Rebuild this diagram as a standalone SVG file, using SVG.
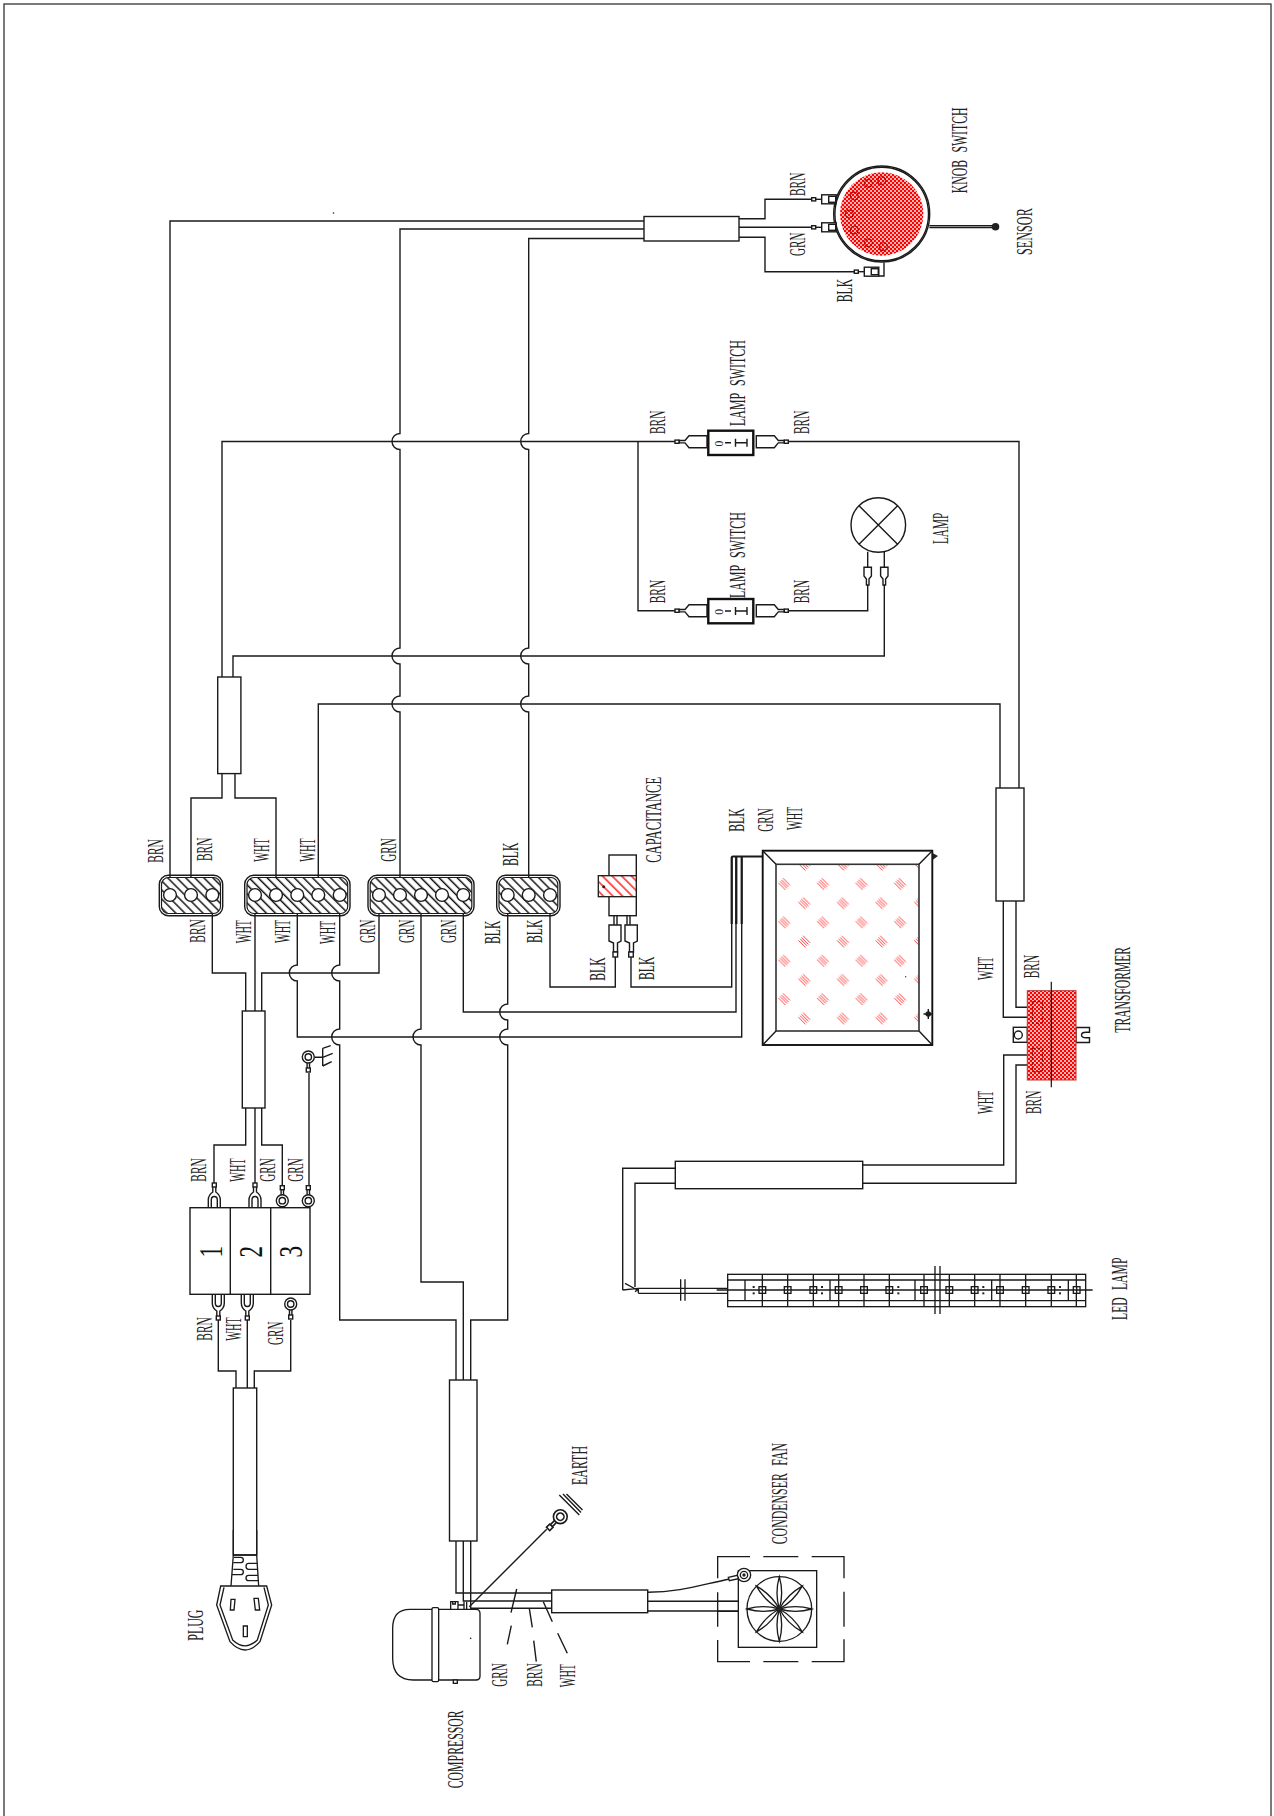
<svg xmlns="http://www.w3.org/2000/svg" xmlns:xlink="http://www.w3.org/1999/xlink" width="1274" height="1816" viewBox="0 0 1274 1816">
<style>
.l{fill:none;stroke:#1a1a1a;stroke-width:1.4}
.f{fill:#fff;stroke:#1a1a1a;stroke-width:1.4}
.th{fill:#fff;stroke:#111;stroke-width:2.4}
.t{font-family:"Liberation Serif",serif;font-size:24px;fill:#222;word-spacing:9px}
.n{font-family:"Liberation Serif",serif;font-size:33px;fill:#111;text-anchor:middle}
.zw{fill:#fff;stroke:#1a1a1a;stroke-width:4}
.zl{fill:none;stroke:#1a1a1a;stroke-width:4}
</style>
<defs>
<pattern id="hatch" width="6.4" height="6.4" patternUnits="userSpaceOnUse" patternTransform="rotate(45)"><rect width="6.4" height="6.4" fill="#fff"/><line x1="0" y1="3" x2="6.4" y2="3" stroke="#111" stroke-width="1.5"/></pattern>
<pattern id="rhatch" width="6.8" height="6.8" patternUnits="userSpaceOnUse" patternTransform="rotate(45)"><rect width="6.8" height="6.8" fill="#fff"/><line x1="0" y1="3" x2="6.8" y2="3" stroke="#f00" stroke-width="1.3"/></pattern>
<pattern id="rdot" width="4" height="4" patternUnits="userSpaceOnUse"><rect width="4" height="4" fill="#f00"/><circle cx="1" cy="1" r=".95" fill="#fff"/><circle cx="3" cy="3" r=".95" fill="#fff"/></pattern>
<pattern id="panel" x="777.3" y="877" width="38.6" height="38.4" patternUnits="userSpaceOnUse"><rect width="38.6" height="38.4" fill="#fff"/><path d="M1.2 5.8L8.2 12.8M2.8 4.2L9.8 11.2M4.2 2.8L11.2 9.8M5.8 1.2L12.8 8.2M21.2 25L28.2 32M22.8 23.4L29.8 30.4M24.2 22L31.2 29M25.8 20.4L32.8 27.4" stroke="#f00" stroke-width=".75" fill="none"/></pattern>
<g id="plugc"><path class="f" d="M4 -1.2H10L14 -6H32V6H14L10 1.2H4Z"/><rect class="f" x="0" y="-1.6" width="4" height="3.2"/></g>
<g id="kconn"><path class="l" d="M4 0H10"/><rect class="f" x="0" y="-1.6" width="4" height="3.2"/><rect class="f" x="10" y="-4.5" width="14.5" height="9"/><rect class="l" x="17" y="-3" width="7" height="6"/></g>
<g id="fork"><rect class="f" x="-2" y="0" width="4" height="4"/><path class="l" d="M-1.5 4V9Q-6 12-6 17V25M1.5 4V9Q6 12 6 17V25M-3 25V17Q-3 13.5 0 13.5Q3 13.5 3 17V25"/></g>
<g id="ring"><circle class="f" r="6"/><circle class="l" r="3.2"/><path class="l" d="M-1.2 -6V-11M1.2 -6V-11"/><rect class="f" x="-2" y="-15" width="4" height="4"/></g>
</defs>
<rect id="frame" x="4" y="4" width="1267" height="1840" fill="#fff" stroke="#222" stroke-width="1.2"/>
<circle cx="333.5" cy="213" r=".8" fill="#222"/>

<g id="connectors" class="l">
<path d="M170 895V221H644"/>
<path d="M644 229H400V433.5a8 8 0 0 0 0 16V648a8 8 0 0 0 0 16V696a8 8 0 0 0 0 16V895"/>
<path d="M644 238.5H528.7V433.5a8 8 0 0 0 0 16V648a8 8 0 0 0 0 16V696a8 8 0 0 0 0 16V895"/>
<path d="M222 773.6V441.5H675"/>
<path d="M638 441.5V610.7H675"/>
<path d="M788 441.5H1019V788"/>
<path d="M788 610.7H867.7V590"/>
<path d="M884.3 590V656H233V677"/>
<path d="M318.3 895V704H1000V788"/>
<path d="M191 895V798H222V773.6"/>
<path d="M276 895V798H235V773.6"/>
<path d="M212.3 895V973H245.7V1011"/>
<path d="M255 895V1011"/>
<path d="M379 895V973H261.7V1011"/>
<path d="M297.3 895V965a8 8 0 0 0 0 16V1037H741.7V857"/>
<path d="M339.7 895V965a8 8 0 0 0 0 16V1029a8 8 0 0 0 0 16V1320H456V1380"/>
<path d="M421 895V1029a8 8 0 0 0 0 16V1282H463.3V1380"/>
<path d="M507.7 895V1004a8 8 0 0 0 0 16V1029a8 8 0 0 0 0 16V1320H470.7V1380"/>
<path d="M463.3 895V1012H736V857"/>
<path d="M550 895V987H615.3V957"/>
<path d="M631 957V987H731.7V857"/>
<path d="M731.7 924V858Q731.7 856.5 733 856.5H763M736.3 924V857M741.7 924V857M755 856.5H763" stroke-width="2.2"/>
<path d="M245.7 1108V1145H214V1183M255 1108V1183M261.7 1108V1145H282.3V1186"/>
<path d="M309 1073V1186"/>
<path d="M218.3 1320V1371H236V1388M247.3 1320V1388M254.3 1388V1371H290.7V1320"/>
<path d="M456 1541V1593H551.7M463.3 1541V1601H551.7M470.7 1541V1608.3H551.7"/>
<path d="M647.7 1601.3H738.3M647.7 1611H738.3M647.7 1592.3C680 1592 700 1585 730 1579"/>
<path d="M739 218.7H765V199.3H811.7M739 227.3H811.7M739 237.3H765V271.7H854"/>
<path d="M1003.3 901V1017.3H1027.3M1016 901V1007.3H1027.3M862.7 1165H1003.7V1055H1027.3M862.7 1183.3H1016V1065H1027.3"/>
<path d="M675.3 1168.3H622.7V1290M675.3 1183.3H635V1287"/>
<path d="M469.3 1606.7L546.7 1529.3"/>
<path d="M929.3 225.8H995M929.3 227.6H995"/>
<path d="M516.7 1589L511 1612.7M511.3 1625.7L507.3 1644.3M529.3 1608.3L532.3 1627.3M533.7 1640.7L536.3 1661.7M543.3 1601.7L552.3 1621.7M557.7 1633.3L567.3 1653.3"/>
<path d="M322.7 1048.3V1066M322.7 1048.3L330.7 1045.7M315 1057.3H322.7M322.7 1057.3L332.7 1053.3M322.7 1066L331.7 1061.7"/>
<path d="M559.3 1495L579.3 1515M563 1494L581 1512.5M566.5 1494L582.5 1510"/>
</g>

<g id="sheaths">
<rect class="f" x="644" y="216.5" width="95" height="24.5"/>
<rect class="f" x="217.7" y="677" width="23.2" height="96.6"/>
<rect class="f" x="996" y="788" width="28" height="113"/>
<rect class="f" x="242.3" y="1011" width="22.7" height="97"/>
<rect class="f" x="233.3" y="1388" width="23.4" height="167"/>
<rect class="f" x="449.5" y="1380" width="27.5" height="161"/>
<rect class="f" x="551.7" y="1590" width="96" height="22.7"/>
<rect class="f" x="675.3" y="1161.3" width="187.4" height="27.4"/>
</g>

<g id="block1"><rect x="159.3" y="875.3" width="63.4" height="40.4" rx="9" class="l"/><rect x="161.5" y="877.5" width="59" height="36" rx="7" fill="url(#hatch)" stroke="#1a1a1a" stroke-width="1.2"/><circle class="f" cx="170" cy="895" r="6.4"/><circle class="f" cx="191" cy="895" r="6.4"/><circle class="f" cx="212.3" cy="895" r="6.4"/></g>
<g id="block2"><rect x="244.7" y="875.3" width="105.3" height="40.4" rx="9" class="l"/><rect x="247" y="877.5" width="100.7" height="36" rx="7" fill="url(#hatch)" stroke="#1a1a1a" stroke-width="1.2"/><circle class="f" cx="255" cy="895" r="6.4"/><circle class="f" cx="276" cy="895" r="6.4"/><circle class="f" cx="297.3" cy="895" r="6.4"/><circle class="f" cx="318.3" cy="895" r="6.4"/><circle class="f" cx="339.7" cy="895" r="6.4"/></g>
<g id="block3"><rect x="368" y="875.3" width="106" height="40.4" rx="9" class="l"/><rect x="370.2" y="877.5" width="101.6" height="36" rx="7" fill="url(#hatch)" stroke="#1a1a1a" stroke-width="1.2"/><circle class="f" cx="379" cy="895" r="6.4"/><circle class="f" cx="400" cy="895" r="6.4"/><circle class="f" cx="421" cy="895" r="6.4"/><circle class="f" cx="442" cy="895" r="6.4"/><circle class="f" cx="463.3" cy="895" r="6.4"/></g>
<g id="block4"><rect x="496.7" y="875.3" width="63.3" height="40.4" rx="9" class="l"/><rect x="499" y="877.5" width="58.8" height="36" rx="7" fill="url(#hatch)" stroke="#1a1a1a" stroke-width="1.2"/><circle class="f" cx="507.7" cy="895" r="6.4"/><circle class="f" cx="528.7" cy="895" r="6.4"/><circle class="f" cx="550" cy="895" r="6.4"/></g>

<g id="knob-switch">
<circle class="f" cx="881.7" cy="214" r="48"/>
<circle class="l" cx="881.7" cy="214" r="46.8"/>
<circle cx="881.7" cy="214" r="41.7" fill="url(#rdot)"/>
<g fill="none" stroke="#a00" stroke-width="1"><circle cx="881.7" cy="180.7" r="4"/><circle cx="868.3" cy="183.3" r="4"/><circle cx="854.3" cy="196" r="4"/><circle cx="849.3" cy="214" r="4"/><circle cx="854.3" cy="230" r="4"/><circle cx="868.3" cy="242.7" r="4"/><circle cx="883.3" cy="246.7" r="4"/></g>
<use href="#kconn" x="811.7" y="199.3"/><use href="#kconn" x="811.7" y="227.3"/><use href="#kconn" x="854.3" y="271.7"/>
<path class="l" d="M879 276H884V262.5"/>
<circle cx="995.5" cy="226.7" r="3.8" fill="#222"/>
</g>

<g id="lamp-switch-1"><use href="#plugc" x="675" y="441.7"/><use href="#plugc" transform="translate(788.3 441.7) scale(-1 1)"/><rect class="th" x="708.3" y="430.7" width="45" height="24.3"/><path class="l" d="M725 442.7H731M735.5 442.7H747M735.5 438.7V446.7M747 438.7V446.7" stroke-width="1"/><text transform="translate(722.7 446.5) rotate(-90) scale(.9 1)" font-family="Liberation Serif,serif" font-size="13" fill="#222">0</text></g>
<g id="lamp-switch-2"><use href="#plugc" x="675" y="610.7"/><use href="#plugc" transform="translate(788.3 610.7) scale(-1 1)"/><rect class="th" x="708.3" y="599" width="45" height="24.3"/><path class="l" d="M725 611H731M735.5 611H747M735.5 607V615M747 607V615" stroke-width="1"/><text transform="translate(722.7 614.8) rotate(-90) scale(.9 1)" font-family="Liberation Serif,serif" font-size="13" fill="#222">0</text></g>

<g id="lamp"><circle class="f" cx="878.3" cy="525" r="27.3"/><path class="l" d="M859 505.7L897.6 544.3M897.6 505.7L859 544.3M867.7 551.7V567M884.3 551.7V567"/>
<path class="f" d="M864 567.3H871.4V576L869 579V585H866.4V579L864 576Z"/><path class="f" d="M880.6 567.3H888V576L885.6 579V585H883V579L880.6 576Z"/><path class="l" d="M867.7 585V590M884.3 585V590"/></g>

<g id="terminal-block"><rect class="f" x="190" y="1207.7" width="120" height="86.6"/><path class="l" d="M230.3 1207.7V1294.3M270.7 1207.7V1294.3"/>
<text class="n" transform="translate(221.7 1251.7) rotate(-90) scale(.7 1)">1</text><text class="n" transform="translate(262 1251.7) rotate(-90) scale(.7 1)">2</text><text class="n" transform="translate(302 1251.7) rotate(-90) scale(.7 1)">3</text>
<use href="#fork" x="214.3" y="1183"/><use href="#fork" x="255" y="1183"/>
<use href="#fork" transform="translate(218.3 1320) scale(1 -1)"/><use href="#fork" transform="translate(247.3 1320) scale(1 -1)"/>
<use href="#ring" x="282.3" y="1200.7"/><use href="#ring" x="308.3" y="1200.7"/><use href="#ring" transform="translate(290.7 1304) scale(1 -1)"/>
</g>
<g id="earth-top"><use href="#ring" transform="translate(308.3 1057) scale(1 -1)"/></g>

<g id="capacitance">
<rect class="f" x="609" y="855" width="27.3" height="60.7"/>
<rect x="598.3" y="875.7" width="38" height="21" fill="url(#rhatch)" stroke="#1a1a1a" stroke-width="1.3"/>
<circle cx="603.7" cy="886.7" r="1.5" fill="#222"/>
<path class="l" d="M614 915.7V925M617 915.7V925M627 915.7V925M630 915.7V925"/>
<path class="f" d="M609 925H621V941L617.5 943V952H613.5V943L609 941Z"/><rect class="f" x="613" y="952" width="4.6" height="5"/>
<path class="f" d="M625 925H637.3V941L633.5 943V952H629.5V943L625 941Z"/><rect class="f" x="628.7" y="952" width="4.6" height="5"/>
</g>

<g id="panel-light">
<rect x="762.7" y="850.7" width="169.6" height="194.3" fill="#fff" stroke="#111" stroke-width="1.9"/>
<rect x="776" y="864.3" width="143" height="166.7" fill="url(#panel)" stroke="#333" stroke-width="1.6"/>
<path class="l" d="M762.7 850.7L776 864.3M932.3 850.7L919 864.3M762.7 1045L776 1031M932.3 1045L919 1031"/>
<circle cx="905.7" cy="976.7" r=".7" fill="#333"/>
<path d="M932.5 853L938 856L932.5 860Z" fill="#222"/>
<circle cx="928.3" cy="1014" r="2.8" fill="#222"/><path class="l" d="M923.5 1014H933M928.3 1009V1019" stroke-width="1"/>
</g>

<g id="transformer">
<rect class="f" x="1013.3" y="1027.3" width="14" height="15"/><circle class="l" cx="1018.3" cy="1035" r="4"/>
<path class="f" d="M1076 1027.5H1089.5V1032.3H1086Q1081.5 1032.3 1081.5 1035Q1081.5 1037.7 1086 1037.7H1089.5V1042.5H1076Z"/>
<rect x="1027.3" y="990.7" width="48.7" height="89.3" fill="url(#rdot)" stroke="#b33" stroke-width="1"/>
<path d="M1051.3 981.7V1087.3" stroke="#111" stroke-width="1.2"/>
<path d="M1032.3 1001.7H1042.3V1023.3H1032.3ZM1032.3 1048.3H1042.3V1071.7H1032.3Z" fill="none" stroke="#800" stroke-width="1" stroke-dasharray="3 2"/>
</g>

<g id="led-lamp" transform="translate(620 1140) scale(.33333)">
<path class="zl" d="M8 450L55 445M15 430L52 450L45 455M55 445V460M55 445H325M55 460H325M182 418V482M195 418V482M290 450H325"/>
<rect class="zw" x="323" y="403" width="1074" height="97"/>
<path class="zl" d="M323 420H1397M323 482H1397M323 450H1418M427 403V500M503 403V500M580 403V500M656 403V500M732 403V500M808 403V500M912 403V500M988 403V500M1064 403V500M1140 403V500M1217 403V500M1294 403V500M1369 403V500M375 420V482M630 420V482M885 420V482M1115 420V482M1345 420V482"/>
<g><rect class="zw" x="417" y="440" width="20" height="20"/><rect class="zw" x="493" y="440" width="20" height="20"/><rect class="zw" x="570" y="440" width="20" height="20"/><rect class="zw" x="646" y="440" width="20" height="20"/><rect class="zw" x="722" y="440" width="20" height="20"/><rect class="zw" x="798" y="440" width="20" height="20"/><rect class="zw" x="902" y="440" width="20" height="20"/><rect class="zw" x="978" y="440" width="20" height="20"/><rect class="zw" x="1054" y="440" width="20" height="20"/><rect class="zw" x="1130" y="440" width="20" height="20"/><rect class="zw" x="1207" y="440" width="20" height="20"/><rect class="zw" x="1284" y="440" width="20" height="20"/><rect class="zw" x="1360" y="440" width="20" height="20"/></g>
<path class="zl" d="M417 450H437M493 450H513M570 450H590M646 450H666M722 450H742M798 450H818M902 450H922M978 450H998M1054 450H1074M1130 450H1150M1207 450H1227M1284 450H1304M1360 450H1380M427 440V460M503 440V460M580 440V460M656 440V460M732 440V460M808 440V460M912 440V460M988 440V460M1064 440V460M1140 440V460M1217 440V460M1294 440V460M1370 440V460"/>
<path class="zl" d="M945 378V522M960 378V522"/>
<g fill="#222"><rect x="398" y="438" width="6" height="6"/><rect x="398" y="457" width="6" height="6"/><rect x="603" y="438" width="6" height="6"/><rect x="603" y="457" width="6" height="6"/><rect x="832" y="438" width="6" height="6"/><rect x="832" y="457" width="6" height="6"/><rect x="1087" y="438" width="6" height="6"/><rect x="1087" y="457" width="6" height="6"/><rect x="1317" y="438" width="6" height="6"/><rect x="1317" y="457" width="6" height="6"/></g>
</g>

<g id="plug" transform="translate(170 1530) scale(.33333)">
<path class="zl" d="M190 0V75L183 168M260 0V75L266 168M190 75H260"/>
<path class="zl" d="M192 82H212Q220 82 220 90Q220 98 212 98H190M190 118H212Q220 118 220 126Q220 134 212 134H186M262 100H236Q228 100 228 109Q228 118 236 118H263M264 136H236Q228 136 228 144Q228 152 236 152H265"/>
<path class="zw" d="M152 168H290L305 225L270 335Q225 385 180 335L140 225Z"/>
<path class="zl" d="M162 172L150 225L188 330Q225 365 262 330L295 225L282 172"/>
<path class="zl" d="M183 208H195L192 240H181ZM252 205H265L269 240H256ZM220 288H232V320H220Z"/>
</g>

<g id="compressor" transform="translate(170 1530) scale(.33333)">
<path class="zw" d="M720 238H918Q930 238 930 250V438Q930 450 918 450H730Q668 450 668 385V295Q668 238 720 238Z"/>
<rect class="zw" x="786" y="233" width="20" height="222" rx="4"/>
<rect class="zw" x="850" y="450" width="12" height="10"/>
<path class="zl" d="M842 238V215H864V238M856 215V222H848V215M864 225H882V238M882 215V238M890 215V238"/>
<circle cx="902" cy="325" r="2.5" fill="#222"/>
</g>
<g id="earth-ring"><use href="#ring" transform="translate(560.3 1516.7) rotate(-135) scale(1.15)"/></g>

<g id="condenser-fan" transform="translate(440 1430) scale(.33333)">
<path class="zl" d="M833 445V380H930M970 380H1075M1115 380H1212V445M1212 485V590M1212 628V695H1115M1075 695H970M930 695H833V630M833 590V487"/>
<rect class="zw" x="895" y="422" width="235" height="230"/>
<path class="zl" d="M833 514H895M833 544H895"/>
<circle class="zl" cx="1018" cy="537" r="97"/>
<g class="zl" stroke-width="3">
<path transform="translate(1018 537)" d="M0 0Q14 -48 0 -97Q-14 -48 0 0"/>
<path transform="translate(1018 537) rotate(45)" d="M0 0Q14 -48 0 -97Q-14 -48 0 0"/>
<path transform="translate(1018 537) rotate(90)" d="M0 0Q14 -48 0 -97Q-14 -48 0 0"/>
<path transform="translate(1018 537) rotate(135)" d="M0 0Q14 -48 0 -97Q-14 -48 0 0"/>
<path transform="translate(1018 537) rotate(180)" d="M0 0Q14 -48 0 -97Q-14 -48 0 0"/>
<path transform="translate(1018 537) rotate(225)" d="M0 0Q14 -48 0 -97Q-14 -48 0 0"/>
<path transform="translate(1018 537) rotate(270)" d="M0 0Q14 -48 0 -97Q-14 -48 0 0"/>
<path transform="translate(1018 537) rotate(315)" d="M0 0Q14 -48 0 -97Q-14 -48 0 0"/>
</g>
<circle cx="1018" cy="537" r="8" fill="#222"/>
<circle class="zw" cx="912" cy="435" r="20"/><circle class="zl" cx="912" cy="435" r="11"/><circle cx="912" cy="435" r="5" fill="#222"/>
<path class="zw" d="M865 442L892 436L895 446L868 452Z"/>
</g>

<g id="labels">
<text class="t" transform="translate(163.3 862.7) rotate(-90)" textLength="23.4" lengthAdjust="spacingAndGlyphs">BRN</text>
<text class="t" transform="translate(211.7 861) rotate(-90)" textLength="23.4" lengthAdjust="spacingAndGlyphs">BRN</text>
<text class="t" transform="translate(269.3 861.7) rotate(-90)" textLength="23.4" lengthAdjust="spacingAndGlyphs">WHT</text>
<text class="t" transform="translate(314.7 861.7) rotate(-90)" textLength="23.4" lengthAdjust="spacingAndGlyphs">WHT</text>
<text class="t" transform="translate(396 861.7) rotate(-90)" textLength="23.4" lengthAdjust="spacingAndGlyphs">GRN</text>
<text class="t" transform="translate(517.7 866) rotate(-90)" textLength="23.4" lengthAdjust="spacingAndGlyphs">BLK</text>
<text class="t" transform="translate(205 942.7) rotate(-90)" textLength="23.4" lengthAdjust="spacingAndGlyphs">BRN</text>
<text class="t" transform="translate(250.7 943.3) rotate(-90)" textLength="23.4" lengthAdjust="spacingAndGlyphs">WHT</text>
<text class="t" transform="translate(290 943) rotate(-90)" textLength="23.4" lengthAdjust="spacingAndGlyphs">WHT</text>
<text class="t" transform="translate(335 944) rotate(-90)" textLength="23.4" lengthAdjust="spacingAndGlyphs">WHT</text>
<text class="t" transform="translate(375 943) rotate(-90)" textLength="23.4" lengthAdjust="spacingAndGlyphs">GRN</text>
<text class="t" transform="translate(414.3 943) rotate(-90)" textLength="23.4" lengthAdjust="spacingAndGlyphs">GRN</text>
<text class="t" transform="translate(456 943) rotate(-90)" textLength="23.4" lengthAdjust="spacingAndGlyphs">GRN</text>
<text class="t" transform="translate(500.3 944) rotate(-90)" textLength="23.4" lengthAdjust="spacingAndGlyphs">BLK</text>
<text class="t" transform="translate(541.7 943) rotate(-90)" textLength="23.4" lengthAdjust="spacingAndGlyphs">BLK</text>
<text class="t" transform="translate(605.3 980.7) rotate(-90)" textLength="23.4" lengthAdjust="spacingAndGlyphs">BLK</text>
<text class="t" transform="translate(654.3 980) rotate(-90)" textLength="23.4" lengthAdjust="spacingAndGlyphs">BLK</text>
<text class="t" transform="translate(661 862.7) rotate(-90)" textLength="85.8" lengthAdjust="spacingAndGlyphs">CAPACITANCE</text>
<text class="t" transform="translate(743.7 831.7) rotate(-90)" textLength="23.4" lengthAdjust="spacingAndGlyphs">BLK</text>
<text class="t" transform="translate(773.3 831.7) rotate(-90)" textLength="23.4" lengthAdjust="spacingAndGlyphs">GRN</text>
<text class="t" transform="translate(801.7 830) rotate(-90)" textLength="23.4" lengthAdjust="spacingAndGlyphs">WHT</text>
<text class="t" transform="translate(805 196) rotate(-90)" textLength="23.4" lengthAdjust="spacingAndGlyphs">BRN</text>
<text class="t" transform="translate(805 256) rotate(-90)" textLength="23.4" lengthAdjust="spacingAndGlyphs">GRN</text>
<text class="t" transform="translate(851.7 302.3) rotate(-90)" textLength="23.4" lengthAdjust="spacingAndGlyphs">BLK</text>
<text class="t" transform="translate(967.3 193.3) rotate(-90)" textLength="85.8" lengthAdjust="spacingAndGlyphs">KNOB SWITCH</text>
<text class="t" transform="translate(1031.7 255) rotate(-90)" textLength="46.8" lengthAdjust="spacingAndGlyphs">SENSOR</text>
<text class="t" transform="translate(665 434) rotate(-90)" textLength="23.4" lengthAdjust="spacingAndGlyphs">BRN</text>
<text class="t" transform="translate(809.3 434) rotate(-90)" textLength="23.4" lengthAdjust="spacingAndGlyphs">BRN</text>
<text class="t" transform="translate(745 426) rotate(-90)" textLength="85.8" lengthAdjust="spacingAndGlyphs">LAMP SWITCH</text>
<text class="t" transform="translate(665 603.3) rotate(-90)" textLength="23.4" lengthAdjust="spacingAndGlyphs">BRN</text>
<text class="t" transform="translate(809.3 603.3) rotate(-90)" textLength="23.4" lengthAdjust="spacingAndGlyphs">BRN</text>
<text class="t" transform="translate(745 598) rotate(-90)" textLength="85.8" lengthAdjust="spacingAndGlyphs">LAMP SWITCH</text>
<text class="t" transform="translate(948 544) rotate(-90)" textLength="31.2" lengthAdjust="spacingAndGlyphs">LAMP</text>
<text class="t" transform="translate(205.7 1181.7) rotate(-90)" textLength="23.4" lengthAdjust="spacingAndGlyphs">BRN</text>
<text class="t" transform="translate(245 1181.7) rotate(-90)" textLength="23.4" lengthAdjust="spacingAndGlyphs">WHT</text>
<text class="t" transform="translate(275 1181.7) rotate(-90)" textLength="23.4" lengthAdjust="spacingAndGlyphs">GRN</text>
<text class="t" transform="translate(303.3 1181.7) rotate(-90)" textLength="23.4" lengthAdjust="spacingAndGlyphs">GRN</text>
<text class="t" transform="translate(212.3 1340.7) rotate(-90)" textLength="23.4" lengthAdjust="spacingAndGlyphs">BRN</text>
<text class="t" transform="translate(241 1340.7) rotate(-90)" textLength="23.4" lengthAdjust="spacingAndGlyphs">WHT</text>
<text class="t" transform="translate(283.3 1345) rotate(-90)" textLength="23.4" lengthAdjust="spacingAndGlyphs">GRN</text>
<text class="t" transform="translate(506.7 1686.7) rotate(-90)" textLength="23.4" lengthAdjust="spacingAndGlyphs">GRN</text>
<text class="t" transform="translate(541.7 1686.7) rotate(-90)" textLength="23.4" lengthAdjust="spacingAndGlyphs">BRN</text>
<text class="t" transform="translate(575 1687.3) rotate(-90)" textLength="23.4" lengthAdjust="spacingAndGlyphs">WHT</text>
<text class="t" transform="translate(586.7 1485) rotate(-90)" textLength="39" lengthAdjust="spacingAndGlyphs">EARTH</text>
<text class="t" transform="translate(787.3 1544.3) rotate(-90)" textLength="101.4" lengthAdjust="spacingAndGlyphs">CONDENSER FAN</text>
<text class="t" transform="translate(462.7 1788.3) rotate(-90)" textLength="78" lengthAdjust="spacingAndGlyphs">COMPRESSOR</text>
<text class="t" transform="translate(203.3 1640.7) rotate(-90)" textLength="31.2" lengthAdjust="spacingAndGlyphs">PLUG</text>
<text class="t" transform="translate(993.3 980) rotate(-90)" textLength="23.4" lengthAdjust="spacingAndGlyphs">WHT</text>
<text class="t" transform="translate(1039.3 978.3) rotate(-90)" textLength="23.4" lengthAdjust="spacingAndGlyphs">BRN</text>
<text class="t" transform="translate(993.3 1114) rotate(-90)" textLength="23.4" lengthAdjust="spacingAndGlyphs">WHT</text>
<text class="t" transform="translate(1040.7 1114) rotate(-90)" textLength="23.4" lengthAdjust="spacingAndGlyphs">BRN</text>
<text class="t" transform="translate(1130 1032.7) rotate(-90)" textLength="85.8" lengthAdjust="spacingAndGlyphs">TRANSFORMER</text>
<text class="t" transform="translate(1127 1320) rotate(-90)" textLength="62.4" lengthAdjust="spacingAndGlyphs">LED LAMP</text>
</g>
</svg>
